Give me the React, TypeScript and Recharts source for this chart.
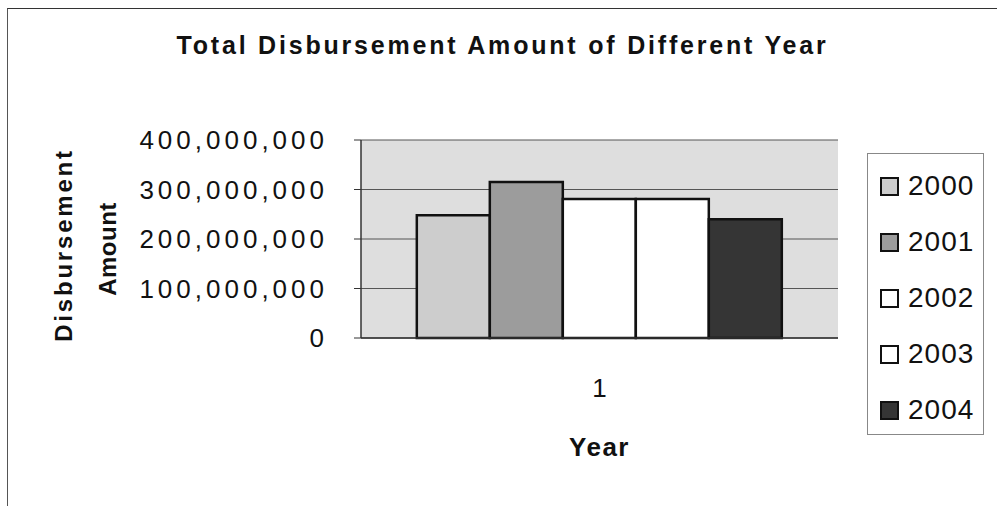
import { BarChart, Bar, XAxis, YAxis, CartesianGrid, Label } from "recharts";

const categories = ["1"];
const years = ["2000", "2001", "2002", "2003", "2004"];
const amounts = [248000000, 315000000, 281000000, 281000000, 240000000];
const yTicks = [0, 100000000, 200000000, 300000000, 400000000];
const colors = ["#cdcdcd", "#9c9c9c", "#ffffff", "#ffffff", "#353535"];

const data = categories.map((c) => {
  const row: Record<string, string | number> = { name: c };
  years.forEach((y, i) => {
    row[y] = amounts[i];
  });
  return row;
});

const FONT = "Arial, 'Liberation Sans', sans-serif";

function YearLegend() {
  return (
    <div
      style={{
        position: "absolute",
        left: 867,
        top: 153,
        width: 117,
        height: 282,
        border: "1px solid #888",
        background: "#fff",
        boxSizing: "border-box",
        paddingTop: 4,
        fontFamily: FONT,
      }}
    >
      {years.map((y, i) => (
        <div
          key={y}
          style={{ display: "flex", alignItems: "center", height: 56, paddingLeft: 12 }}
        >
          <span
            style={{
              width: 15,
              height: 15,
              border: "2px solid #111",
              background: colors[i],
              marginRight: 9,
            }}
          />
          <span style={{ fontSize: 28, color: "#111", letterSpacing: 1 }}>{y}</span>
        </div>
      ))}
    </div>
  );
}

function YLabel(props: any) {
  const vb = props.viewBox || {};
  const cy = (vb.y ?? 140) + (vb.height ?? 198) / 2;
  const y1 = cy + 6;
  const y2 = cy + 10;
  return (
    <g fontFamily={FONT} fontWeight="bold" fontSize={24} fill="#111">
      <text x={63} y={y1} textAnchor="middle" dominantBaseline="central" transform={`rotate(-90 63 ${y1})`} letterSpacing={2.8}>
        Disbursement
      </text>
      <text x={107} y={y2} textAnchor="middle" dominantBaseline="central" transform={`rotate(-90 107 ${y2})`} letterSpacing={0.5}>
        Amount
      </text>
    </g>
  );
}

export default function App() {
  return (
    <div
      style={{
        position: "absolute",
        left: 0,
        top: 0,
        width: 997,
        height: 506,
        background: "#fff",
        overflow: "hidden",
      }}
    >
      <div
        style={{
          position: "absolute",
          left: 7,
          top: 8,
          right: -2,
          bottom: -2,
          borderTop: "1.5px solid #333",
          borderLeft: "1.5px solid #555",
        }}
      />
      <div
        style={{
          position: "absolute",
          left: 0,
          width: 997,
          top: 31,
          textAlign: "center",
          fontFamily: FONT,
          fontWeight: "bold",
          fontSize: 25,
          letterSpacing: 2.8,
          color: "#111",
          paddingLeft: 4,
        }}
      >
        Total Disbursement Amount of Different Year
      </div>
      <BarChart
        width={997}
        height={506}
        data={data}
        margin={{ top: 140, right: 159, bottom: 0, left: 0 }}
        barCategoryGap="11.7%"
        barGap={0}
        style={{ position: "absolute", left: 0, top: 0 }}
      >
        <CartesianGrid vertical={false} fill="#dedede" stroke="#555" strokeWidth={1} />
        <XAxis
          dataKey="name"
          height={168}
          tickLine={false}
          axisLine={{ stroke: "#333", strokeWidth: 1.5 }}
          tickMargin={35}
          tick={{ fontFamily: FONT, fontSize: 26, fill: "#111" }}
        >
          <Label
            value="Year"
            position="insideTop"
            offset={100}
            style={{ fontFamily: FONT, fontWeight: "bold", fontSize: 26, fill: "#111", letterSpacing: 1.5 }}
          />
        </XAxis>
        <YAxis
          width={361}
          domain={[0, 400000000]}
          ticks={yTicks}
          interval={0}
          tickSize={7}
          tickMargin={26}
          axisLine={{ stroke: "#333", strokeWidth: 1.5 }}
          tickLine={{ stroke: "#333" }}
          tick={{ fontFamily: FONT, fontSize: 26, fill: "#111", letterSpacing: 4 }}
          tickFormatter={(v: number) => v.toLocaleString("en-US")}
        >
          <Label content={<YLabel />} />
        </YAxis>
        {years.map((y, i) => (
          <Bar
            key={y}
            dataKey={y}
            fill={colors[i]}
            stroke="#111"
            strokeWidth={2.5}
            isAnimationActive={false}
          />
        ))}
      </BarChart>
      <YearLegend />
    </div>
  );
}
